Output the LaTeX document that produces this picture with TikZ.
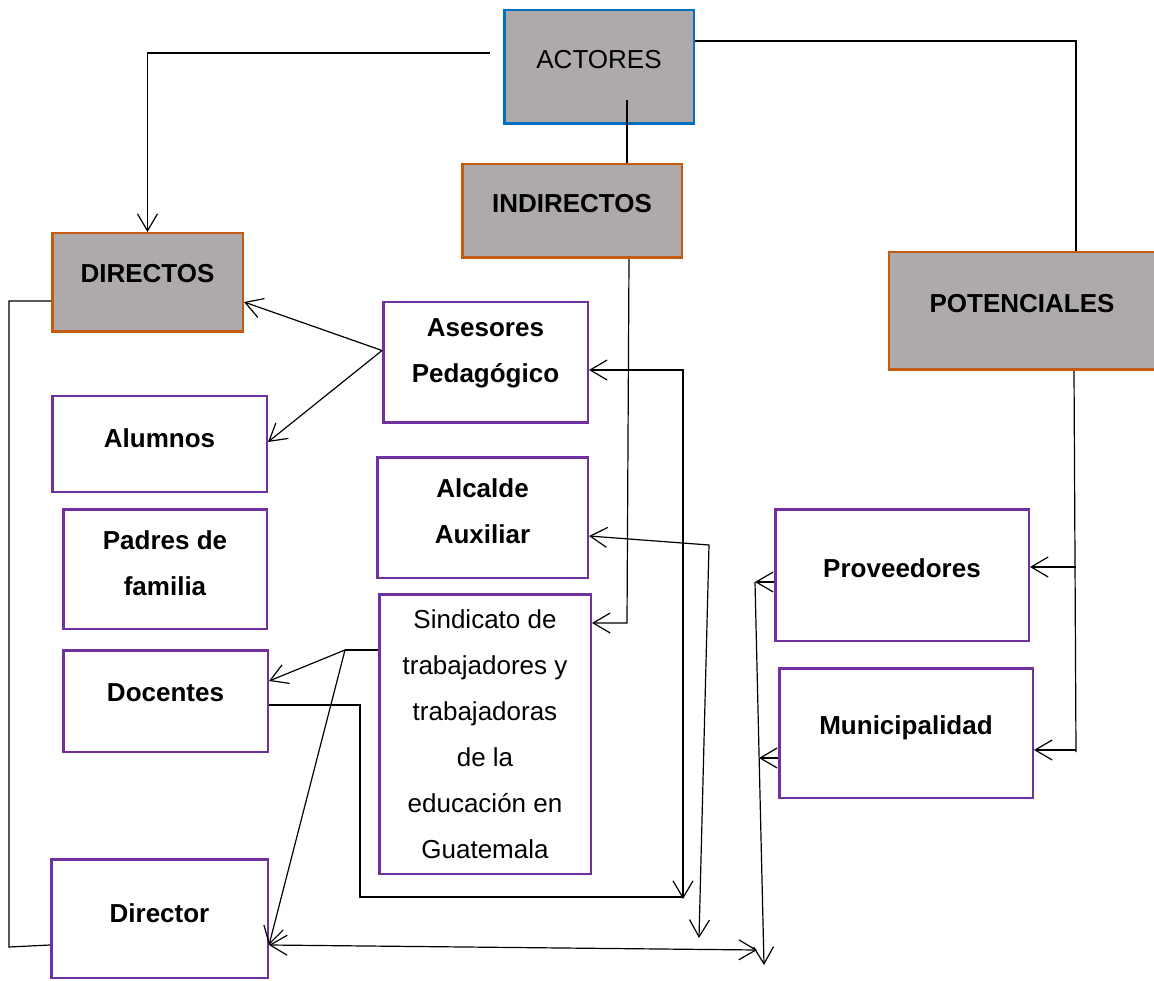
\documentclass[tikz,border=0pt]{standalone}
\usepackage{fontspec}
\setmainfont{Liberation Sans}
\usetikzlibrary{arrows.meta,calc}
\definecolor{boxgray}{HTML}{AEAAAA}
\definecolor{orangeb}{HTML}{C55A11}
\definecolor{blueb}{HTML}{0070C0}
\definecolor{purpleb}{HTML}{7030A0}
\begin{document}
\begin{tikzpicture}[x=1pt,y=-1pt,
  conn/.style={line width=1.2pt, draw=black},
  barb/.tip={Straight Barb[length=17pt,width=20pt,line width=1.2pt]},
  arr/.style={conn, -barb},
  arrboth/.style={conn, barb-barb},
  box/.style={draw, line width=2.5pt, inner sep=0pt},
  graybox/.style={box, fill=boxgray, draw=orangeb},
  whitebox/.style={box, fill=white, draw=purpleb},
  txt/.style={font=\fontsize{26}{46}\selectfont\bfseries, align=center, inner sep=0pt},
  rtxt/.style={font=\fontsize{26}{46}\selectfont, align=center, inner sep=0pt},
]
\useasboundingbox (0,0) rectangle (1154,981);

% boxes
\node[box, fill=boxgray, draw=blueb, minimum width=189.5pt, minimum height=113.5pt,
  label={[rtxt,yshift=7.5pt]center:ACTORES}] (actores) at (599,67) {};
\node[graybox, minimum width=219.5pt, minimum height=93.5pt,
  label={[txt,yshift=7pt]center:INDIRECTOS}] (indirectos) at (572,211) {};
\node[graybox, minimum width=190.5pt, minimum height=98.5pt,
  label={[txt,yshift=8.5pt]center:DIRECTOS}] (directos) at (147.5,282.5) {};
\node[graybox, minimum width=268pt, minimum height=117.5pt,
  label={[txt,yshift=7pt,xshift=-1pt]center:POTENCIALES}] (potenciales) at (1023,311) {};

\node[whitebox, minimum width=204.5pt, minimum height=120.5pt,
  label={[txt,yshift=9pt]center:{Asesores\\Pedagógico}}] (asesores) at (485.5,362.5) {};
\node[whitebox, minimum width=214.5pt, minimum height=95.5pt,
  label={[txt,yshift=6pt]center:Alumnos}] (alumnos) at (159.5,444) {};
\node[whitebox, minimum width=203.5pt, minimum height=119.5pt,
  label={[txt,yshift=6pt]center:{Padres de\\familia}}] (padres) at (165,569) {};
\node[whitebox, minimum width=210.5pt, minimum height=120.5pt,
  label={[txt,yshift=6.5pt]center:{Alcalde\\Auxiliar}}] (alcalde) at (482.5,517.5) {};
\node[whitebox, minimum width=211.5pt, minimum height=279.5pt,
  label={[rtxt,yshift=0pt]center:{Sindicato de\\trabajadores y\\trabajadoras\\de la\\educación en\\Guatemala}}] (sindicato) at (485,734) {};
\node[whitebox, minimum width=204.5pt, minimum height=101.5pt,
  label={[txt,yshift=8pt]center:Docentes}] (docentes) at (165.5,701) {};
\node[whitebox, minimum width=216.5pt, minimum height=118.5pt,
  label={[txt,yshift=5.5pt]center:Director}] (director) at (159.5,918.5) {};
\node[whitebox, minimum width=253.5pt, minimum height=131.5pt,
  label={[txt,yshift=7pt]center:Proveedores}] (proveedores) at (902,575) {};
\node[whitebox, minimum width=253.5pt, minimum height=129.5pt,
  label={[txt,yshift=5.5pt]center:Municipalidad}] (municipalidad) at (906,733) {};

% connector points
\coordinate (aL) at (490,53);
\coordinate (aIn) at (627,100);
\coordinate (aR) at (1076,41);
\coordinate (inB) at (627,623);
\coordinate (asR) at (683,370);
\coordinate (asB) at (683,899);
\coordinate (doc1) at (360,705);
\coordinate (doc2) at (360,897);
\coordinate (alR) at (709,545);
\coordinate (alB) at (699,938);
\coordinate (sinL) at (345,650);
\coordinate (dirR) at (757,950);
\coordinate (leftT) at (9,301);
\coordinate (leftB) at (9,947);
\coordinate (potB) at (1076,752);
\coordinate (potP) at (1076,567);
\coordinate (potM) at (1076,750);
\coordinate (vT) at (755,582);
\coordinate (vB) at (764,965);
\coordinate (vM) at (759,758);

% connectors
\draw[arr] (aL) -| (directos.north);
\draw[conn] (aIn) -- (aIn |- indirectos.north);
\draw[conn] (actores.east |- aR) -- (aR) -- (aR |- potenciales.north);
\draw[arr] ([xshift=57pt]indirectos.south) -- (inB) -- (inB -| sindicato.east);
\draw[arr] ([yshift=12pt]asesores.west) -- ([yshift=-19.5pt]directos.east);
\draw[arr] ([yshift=12pt]asesores.west) -- ([yshift=2pt]alumnos.east);
\draw[arrboth] (asR -| asesores.east) -- (asR) -- (asB);
\draw[conn] (doc1 -| docentes.east) -- (doc1) -- (doc2) -- (doc2 -| asB);
\draw[arrboth] ([yshift=-18.5pt]alcalde.east) -- (alR) -- (alB);
\draw[conn] (sinL -| sindicato.west) -- (sinL);
\draw[arr] (sinL) -- ([yshift=20pt]docentes.east);
\draw[arr] (sinL) -- ([yshift=-26.5pt]director.east);
\draw[arrboth] ([yshift=-26.5pt]director.east) -- (dirR);
\draw[conn] ([yshift=-26.5pt]director.west) -- (leftB) -- (leftT) -- (leftT -| directos.west);
\draw[arr] (vT -| proveedores.west) -- (vT);
\draw[arr] (vT) -- (vB);
\draw[arr] (vM -| municipalidad.west) -- (vM);
\draw[conn] ([xshift=51pt]potenciales.south) -- (potB);
\draw[arr] (potP) -- (potP -| proveedores.east);
\draw[arr] (potM) -- (potM -| municipalidad.east);
\end{tikzpicture}
\end{document}
